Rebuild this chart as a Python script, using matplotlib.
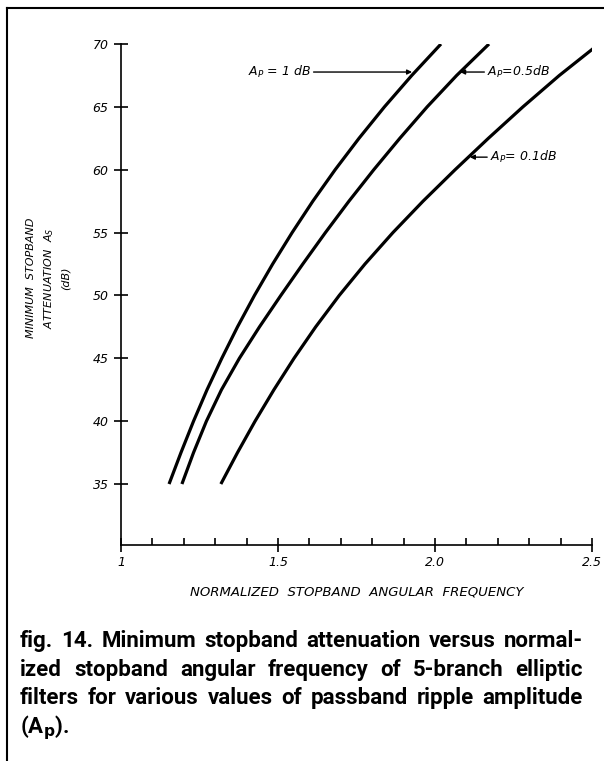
import numpy as np
import matplotlib
matplotlib.use("Agg")
import matplotlib.pyplot as plt
from matplotlib.lines import Line2D

# attenuation levels (dB) at which the curves were read
atten = [35, 37.5, 40, 42.5, 45, 47.5, 50, 52.5, 55, 57.5, 60, 62.5, 65, 67.5, 70]

# normalized stopband angular frequency for each ripple value
freq_1db = [1.153, 1.191, 1.231, 1.274, 1.321, 1.371, 1.425, 1.483, 1.545,
            1.611, 1.682, 1.758, 1.839, 1.926, 2.019]
freq_05db = [1.194, 1.231, 1.272, 1.320, 1.377, 1.441, 1.509, 1.579, 1.651,
             1.726, 1.805, 1.888, 1.975, 2.069, 2.172]
freq_01db = [1.318, 1.371, 1.427, 1.487, 1.551, 1.620, 1.695, 1.777, 1.866,
             1.962, 2.064, 2.170, 2.280, 2.396, 2.522]

xticks = [1.0, 1.5, 2.0, 2.5]
xtick_labels = ["1", "1.5", "2.0", "2.5"]
yticks = [35, 40, 45, 50, 55, 60, 65, 70]

caption = [
    "fig. 14. Minimum stopband attenuation versus normal-",
    "ized stopband angular frequency of 5-branch elliptic",
    "filters for various values of passband ripple amplitude",
    r"(A$_\mathbf{p}$).",
]

plt.rcParams["mathtext.fontset"] = "dejavusans"
plt.rcParams["mathtext.default"] = "it"

W, H = 604, 761
fig = plt.figure(figsize=(W / 100, H / 100), dpi=100)
ax = fig.add_axes([121 / W, 1 - 545 / H, (592 - 121) / W, (545 - 44) / H])

for xs in (freq_1db, freq_05db, freq_01db):
    ax.plot(xs, atten, color="black", lw=2.3, solid_capstyle="butt")

ax.set_xlim(1.0, 2.5)
ax.set_ylim(30.15, 70)
for s in ("top", "right"):
    ax.spines[s].set_visible(False)
for s in ("left", "bottom"):
    ax.spines[s].set_linewidth(1.2)

ax.set_xticks(xticks)
ax.set_xticklabels(xtick_labels, fontstyle="italic", fontsize=9)
ax.set_xticks(np.arange(1.1, 2.5, 0.1), minor=True)
ax.set_yticks(yticks)
ax.set_yticklabels([str(v) for v in yticks], fontstyle="italic", fontsize=9)
ax.tick_params(axis="y", direction="inout", length=10, width=1.2, pad=4)
ax.tick_params(axis="x", which="major", direction="inout", length=10, width=1.2, pad=3)
ax.tick_params(axis="x", which="minor", direction="in", length=5, width=1.2)

ax.set_xlabel("NORMALIZED  STOPBAND  ANGULAR  FREQUENCY", fontstyle="italic",
              fontsize=9.5, labelpad=12)

arrow = dict(arrowstyle="-|>", color="black", lw=1.0, mutation_scale=7,
             shrinkA=0, shrinkB=0)
ax.annotate(r"$A_P$ = 1 dB", xy=(1.927, 67.77), xytext=(1.404, 67.77),
            va="center", ha="left", fontsize=9, fontstyle="italic", arrowprops=arrow)
ax.annotate(r"$A_P$=0.5dB", xy=(2.08, 67.77), xytext=(2.166, 67.77),
            va="center", ha="left", fontsize=9, fontstyle="italic", arrowprops=arrow)
ax.annotate(r"$A_P$= 0.1dB", xy=(2.111, 61.0), xytext=(2.175, 61.0),
            va="center", ha="left", fontsize=9, fontstyle="italic", arrowprops=arrow)

fig.text(48 / W, 1 - 278 / H, "MINIMUM  STOPBAND\nATTENUATION  $A_S$\n(dB)",
         rotation=90, ha="center", va="center", multialignment="center",
         fontsize=8, fontstyle="italic", linespacing=1.6)

# caption, justified between x=20 and x=583 px (last line left aligned)
renderer = fig.canvas.get_renderer()
baselines = [647, 676, 704, 733]
x_left, x_right = 20, 583
for i, (line, yb) in enumerate(zip(caption, baselines)):
    words = line.split()
    if i == len(caption) - 1:
        words = [line]
    arts = [fig.text(0, 1 - yb / H, w, ha="left", va="baseline", fontsize=16,
                     fontweight="bold", family="Roboto") for w in words]
    widths = [a.get_window_extent(renderer).width for a in arts]
    gap = (x_right - x_left - sum(widths)) / max(len(words) - 1, 1)
    x = x_left
    for a, w in zip(arts, widths):
        a.set_x(x / W)
        x += w + gap

# page frame
fig.add_artist(Line2D([7 / W, 1], [1 - 8 / H, 1 - 8 / H], color="black", lw=1.5))
fig.add_artist(Line2D([7 / W, 7 / W], [0, 1 - 8 / H], color="black", lw=1.5))

fig.savefig("out.png", dpi=100)
